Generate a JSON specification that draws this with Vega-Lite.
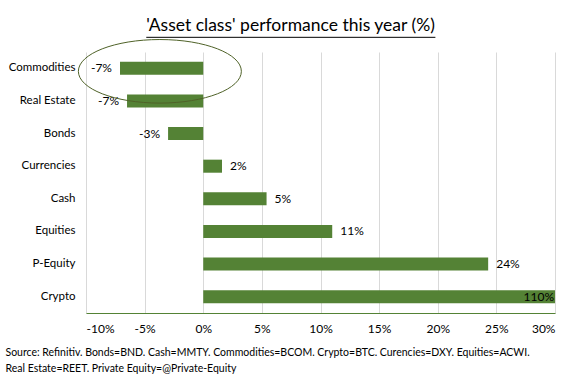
{
  "$schema": "https://vega.github.io/schema/vega-lite/v6.json",
  "width": 469,
  "height": 261,
  "autosize": "none",
  "padding": {"left": 86, "top": 52, "right": 31, "bottom": 65},
  "background": "white",
  "config": {
    "font": "Lato",
    "view": {"stroke": null}
  },
  "title": {
    "text": "'Asset class' performance this year (%)",
    "font": "Lato",
    "fontSize": 17.5,
    "fontWeight": "normal",
    "color": "#000000",
    "anchor": "middle",
    "dx": -30,
    "offset": 2
  },
  "datasets": {
    "perf": [
      {"asset": "Commodities", "value": -7.1, "label": "-7%"},
      {"asset": "Real Estate", "value": -6.5, "label": "-7%"},
      {"asset": "Bonds", "value": -3.0, "label": "-3%"},
      {"asset": "Currencies", "value": 1.6, "label": "2%"},
      {"asset": "Cash", "value": 5.4, "label": "5%"},
      {"asset": "Equities", "value": 11.0, "label": "11%"},
      {"asset": "P-Equity", "value": 24.3, "label": "24%"},
      {"asset": "Crypto", "value": 110, "label": "110%"}
    ]
  },
  "data": {"name": "perf"},
  "encoding": {
    "y": {
      "field": "asset",
      "type": "nominal",
      "sort": ["Commodities", "Real Estate", "Bonds", "Currencies", "Cash", "Equities", "P-Equity", "Crypto"],
      "scale": {"paddingInner": 0.6, "paddingOuter": 0.3},
      "axis": {
        "title": null,
        "domain": false,
        "ticks": false,
        "labelPadding": 11,
        "labelFontSize": 11.5,
        "labelColor": "#000000",
        "labelFont": "Lato"
      }
    }
  },
  "layer": [
    {
      "mark": {"type": "bar", "color": "#548235"},
      "encoding": {
        "x": {
          "field": "value",
          "type": "quantitative",
          "scale": {"domain": [-10, 30], "clamp": true, "nice": false},
          "axis": {
            "values": [-10, -5, 0, 5, 10, 15, 20, 25, 30],
            "labelExpr": "datum.value + '%'",
            "grid": true,
            "gridColor": "#d9d9d9",
            "domainColor": "#548235",
            "domainWidth": 1.2,
            "ticks": false,
            "labelPadding": 10,
            "labelFontSize": 12,
            "labelColor": "#000000",
            "labelFont": "Lato",
            "title": ["Source: Refinitiv. Bonds=BND. Cash=MMTY. Commodities=BCOM. Crypto=BTC. Curencies=DXY. Equities=ACWI.", "Real Estate=REET. Private Equity=@Private-Equity"],
            "titleFont": "Lato",
            "titleFontSize": 10.5,
            "titleFontWeight": "normal",
            "titleColor": "#000000",
            "titleAnchor": "start",
            "titleAlign": "left",
            "titleBaseline": "top",
            "titleX": -81,
            "titleY": 34,
            "titleLineHeight": 16
          }
        }
      }
    },
    {
      "transform": [{"filter": "datum.value < 0"}],
      "mark": {"type": "text", "align": "right", "dx": -8, "fontSize": 12, "color": "#000000"},
      "encoding": {
        "x": {"field": "value", "type": "quantitative"},
        "text": {"field": "label"}
      }
    },
    {
      "transform": [{"filter": "datum.value > 0 && datum.value <= 30"}],
      "mark": {"type": "text", "align": "left", "dx": 8, "fontSize": 12, "color": "#000000"},
      "encoding": {
        "x": {"field": "value", "type": "quantitative"},
        "text": {"field": "label"}
      }
    },
    {
      "transform": [{"filter": "datum.value > 30"}],
      "mark": {"type": "text", "align": "right", "dx": -1, "fontSize": 12, "color": "#000000"},
      "encoding": {
        "x": {"field": "value", "type": "quantitative"},
        "text": {"field": "label"}
      }
    },
    {
      "data": {"values": [{"asset": "Commodities", "cx": -3.7}]},
      "mark": {
        "type": "point",
        "shape": "M-1,0A1,0.39,0,1,1,1,0A1,0.39,0,1,1,-1,0Z",
        "size": 26569,
        "filled": false,
        "stroke": "#4f6228",
        "strokeWidth": 1,
        "opacity": 1,
        "yOffset": 3
      },
      "encoding": {
        "x": {"field": "cx", "type": "quantitative"},
        "y": {"field": "asset", "type": "nominal"}
      }
    },
    {
      "data": {"values": [{"asset": "Commodities", "start": -4.86, "end": 19.8}]},
      "mark": {"type": "rule", "color": "#000000", "strokeWidth": 1, "yOffset": -31},
      "encoding": {
        "x": {"field": "start", "type": "quantitative"},
        "x2": {"field": "end"},
        "y": {"field": "asset", "type": "nominal"}
      }
    }
  ]
}
